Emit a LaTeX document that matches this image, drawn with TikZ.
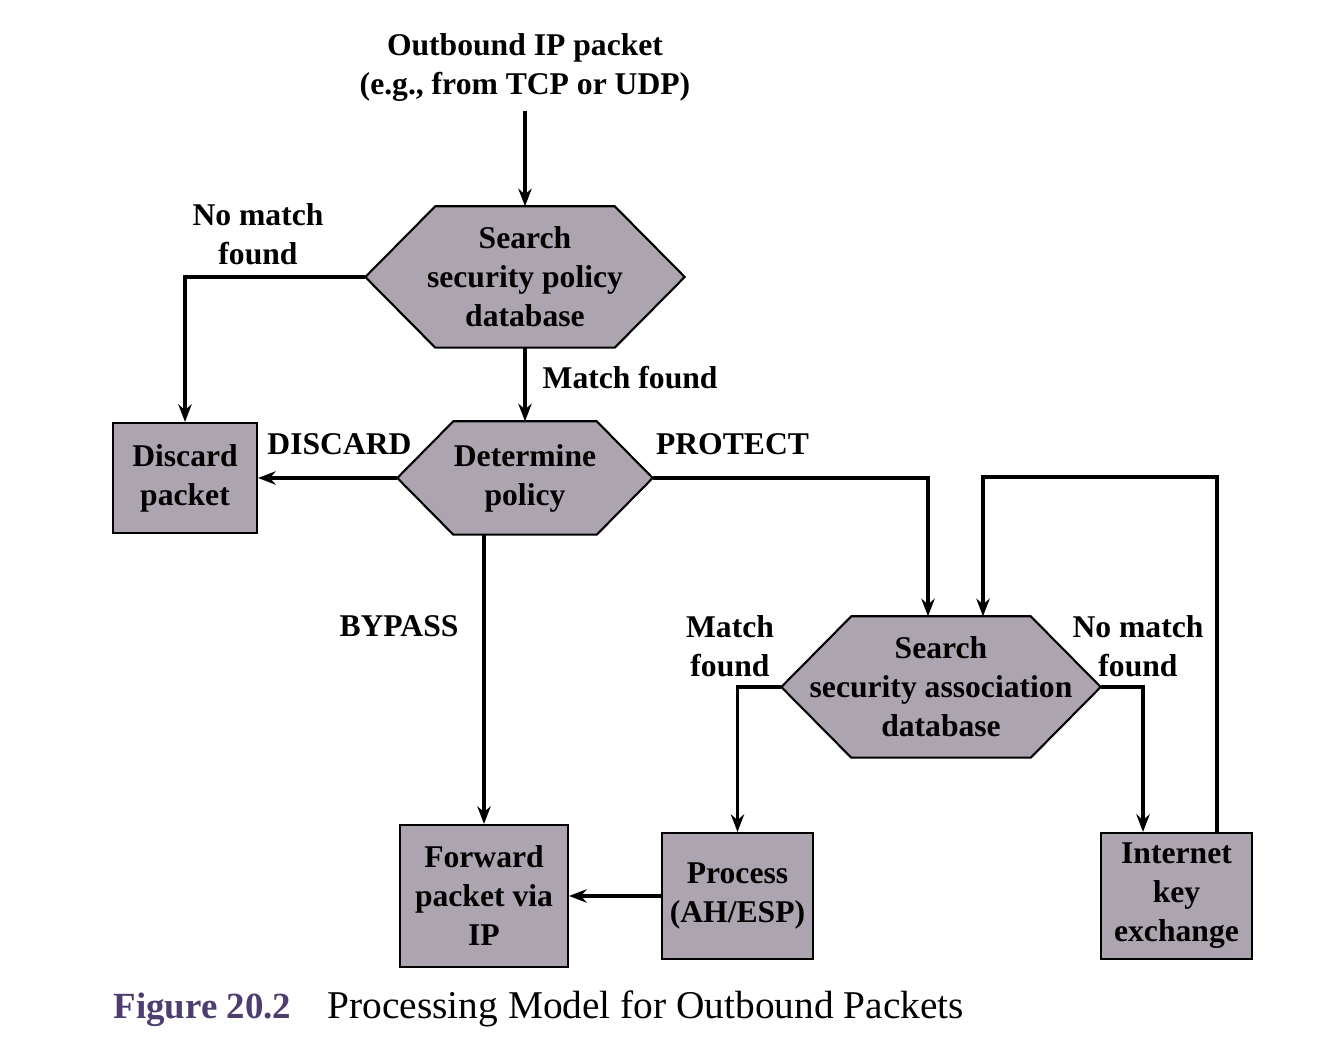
\documentclass[tikz,border=0pt]{standalone}
\usepackage{fontspec}
\setmainfont{Liberation Serif}
\usetikzlibrary{arrows.meta,positioning,backgrounds}
\definecolor{boxgray}{RGB}{172,165,175}
\definecolor{figpurple}{RGB}{78,62,112}
\begin{document}
\begin{tikzpicture}[font=\fontsize{9}{11.1}\selectfont\bfseries, >={Stealth[length=5pt,width=3.8pt]},
  box/.style={draw, line width=0.6pt, fill=boxgray, align=center, inner sep=0pt},
  hexa/.style={align=center, inner sep=0pt},
  flow/.style={line width=0.9pt, ->},
  lbl/.style={align=center, inner sep=0pt}]
\useasboundingbox (0,0) rectangle (13.22,-10.52);
% text of the hexagons, their outlines go on the background
\node[hexa, minimum width=3.18cm, minimum height=1.40cm] (spd) at (5.25,-2.77) {Search\\security policy\\database};
\node[hexa, minimum width=2.54cm, minimum height=1.12cm] (det) at (5.25,-4.78) {Determine\\policy};
\node[hexa, minimum width=3.18cm, minimum height=1.40cm] (sad) at (9.41,-6.87) {Search\\security association\\database};
\begin{scope}[on background layer]
\foreach \n/\h in {spd/0.70, det/0.56, sad/0.70}
  \filldraw[line width=0.6pt, fill=boxgray] (\n.west) -- ([xshift=\h cm]\n.north west) -- ([xshift=-\h cm]\n.north east)
    -- (\n.east) -- ([xshift=-\h cm]\n.south east) -- ([xshift=\h cm]\n.south west) -- cycle;
\end{scope}
% boxes
\node[box, minimum width=1.44cm, minimum height=1.10cm] (disc) at (1.85,-4.78) {Discard\\packet};
\node[box, minimum width=1.68cm, minimum height=1.42cm] (fwd) at (4.84,-8.96) {Forward\\packet via\\IP};
\node[box, minimum width=1.51cm, minimum height=1.26cm] (proc) at (7.375,-8.96) {Process\\(AH/ESP)};
\node[box, minimum width=1.51cm, minimum height=1.26cm] (ike) at (11.765,-8.96) {Internet\\key\\exchange};
% labels
\node[lbl, inner ysep=0.08cm] (intro) at (5.25,-0.68) {Outbound IP packet\\(e.g., from TCP or UDP)};
\node[lbl] (nomatchA) at (2.58,-2.34) {No match\\found};
\node[lbl, anchor=west] (matchA) at (5.42,-3.78) {Match found};
\node[lbl] (discl) at (3.395,-4.44) {DISCARD};
\node[lbl] (protl) at (7.325,-4.44) {PROTECT};
\node[lbl] (bypl) at (3.99,-6.26) {BYPASS};
\node[lbl] (matchB) at (7.30,-6.46) {Match\\found};
\node[lbl] (nomatchB) at (11.38,-6.46) {No match\\found};
% connectors
\draw[flow] (intro.south) -- (spd.north);
\draw[flow] (spd.west) -| (disc.north);
\draw[flow] (spd.south) -- (det.north);
\draw[flow] (det.west) -- (disc.east);
\draw[flow] (det.east) -| ([xshift=-0.13cm]sad.north);
\draw[flow] (det.south -| fwd.north) -- (fwd.north);
\draw[flow] (sad.west) -| (proc.north);
\draw[flow] (sad.east) -| ([xshift=-0.335cm]ike.north);
\draw[flow] ([xshift=0.405cm]ike.north) -- ++(0,3.55) -| ([xshift=0.42cm]sad.north);
\draw[flow] (proc.west) -- (fwd.east);
% caption
\node[anchor=base west, inner sep=0pt, font=\fontsize{10.5}{13}\selectfont\bfseries, text=figpurple] (fig) at (1.13,-10.19) {Figure 20.2};
\node[anchor=base west, inner sep=0pt, font=\fontsize{11.2}{13}\selectfont] (cap) at (3.27,-10.19) {Processing Model for Outbound Packets};
\end{tikzpicture}
\end{document}
